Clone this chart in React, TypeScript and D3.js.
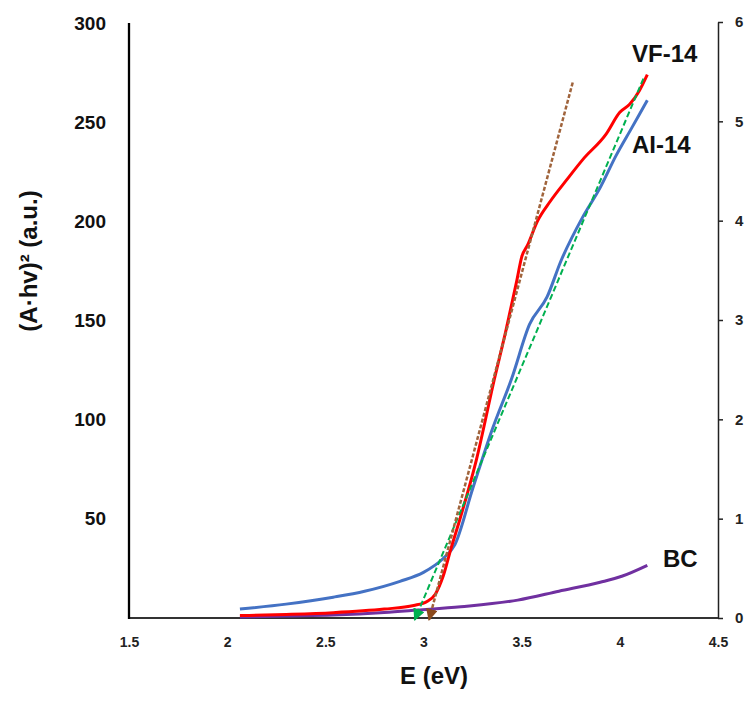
import * as d3 from "d3";
import { useEffect, useRef } from "react";

// photon energy (eV) and (A·hv)^2 readings
const energyAI = [2.065, 2.3, 2.54, 2.7, 2.88, 3.0, 3.1, 3.16, 3.25, 3.35, 3.45, 3.54, 3.63, 3.7, 3.81, 3.9, 3.98, 4.06, 4.14];
const ai14 = [4.5, 7, 10.5, 13.5, 18.5, 23, 30, 37, 65, 95, 121, 148, 162, 180, 202, 217, 233, 247, 261];

const energyVF = [2.065, 2.3, 2.54, 2.8, 2.95, 3.02, 3.06, 3.1, 3.14, 3.18, 3.27, 3.36, 3.42, 3.475, 3.5, 3.53, 3.58, 3.645, 3.73, 3.81, 3.93, 4.0, 4.05, 4.1, 4.14];
const vf14 = [1.2, 1.8, 2.7, 4.5, 6.3, 8.5, 12, 21, 35, 48, 80, 120, 145, 170, 182, 188, 200, 210, 221, 231, 244, 255, 259, 266, 274];

// BC is on the secondary axis
const energyBC = [2.065, 2.3, 2.54, 2.8, 2.97, 3.19, 3.48, 3.69, 3.9, 4.01, 4.14];
const bc = [0.01, 0.02, 0.03, 0.055, 0.08, 0.114, 0.18, 0.27, 0.36, 0.42, 0.53];

// tangent (Tauc) extrapolation lines: [E, value]
const tangentAI: [number, number][] = [[4.12, 272], [2.955, -1]];
const tangentVF: [number, number][] = [[3.76, 270], [3.028, -1]];

const xTicks = [1.5, 2, 2.5, 3, 3.5, 4, 4.5];
const leftTicks = [50, 100, 150, 200, 250, 300];
const rightTicks = [0, 1, 2, 3, 4, 5, 6];

const FONT = "'Liberation Sans', Arial, sans-serif";

export default function App() {
  const svgRef = useRef<SVGSVGElement | null>(null);

  useEffect(() => {
    const svg = d3.select(svgRef.current);
    svg.selectAll("*").remove();

    const x = d3.scaleLinear().domain([1.5, 4.5]).range([129, 718]);
    const yL = d3.scaleLinear().domain([0, 300]).range([618, 23]);
    const yR = d3.scaleLinear().domain([0, 6]).range([618, 22]);

    const defs = svg.append("defs");
    const marker = (id: string, color: string) =>
      defs
        .append("marker")
        .attr("id", id)
        .attr("viewBox", "0 0 12 12")
        .attr("refX", 11)
        .attr("refY", 6)
        .attr("markerWidth", 12)
        .attr("markerHeight", 12)
        .attr("markerUnits", "userSpaceOnUse")
        .attr("orient", "auto")
        .append("path")
        .attr("d", "M0,0 L12,6 L0,12 Z")
        .attr("fill", color);
    marker("arrowGreen", "#00b050");
    marker("arrowBrown", "#8b4a1c");

    // axes
    const gx = svg
      .append("g")
      .attr("transform", "translate(0,618)")
      .call(d3.axisBottom(x).tickValues(xTicks).tickSize(0).tickPadding(19).tickFormat(d3.format("~g") as any));
    gx.select(".domain").remove();
    gx.selectAll("text").attr("font-size", 14).attr("font-weight", "bold").attr("font-family", FONT).attr("fill", "#222");

    const gl = svg
      .append("g")
      .attr("transform", "translate(129,0)")
      .call(d3.axisLeft(yL).tickValues(leftTicks).tickSize(0).tickPadding(23));
    gl.select(".domain").remove();
    gl.selectAll("text").attr("font-size", 19).attr("font-weight", "bold").attr("font-family", FONT).attr("fill", "#111");

    const gr = svg
      .append("g")
      .attr("transform", "translate(718,0)")
      .call(
        d3
          .axisRight(yR)
          .tickValues(rightTicks)
          .tickSize(5)
          .tickPadding(12)
          .tickSizeOuter(0)
          .tickFormat(d3.format("d") as any)
      );
    gr.select(".domain").attr("stroke", "#222").attr("stroke-width", 1.5);
    gr.selectAll(".tick line").attr("stroke", "#222").attr("stroke-width", 1.5);
    gr.selectAll("text").attr("font-size", 15).attr("font-weight", "bold").attr("font-family", FONT).attr("fill", "#222");

    svg
      .append("line")
      .attr("x1", 129)
      .attr("x2", 718)
      .attr("y1", 618)
      .attr("y2", 618)
      .attr("stroke", "#333")
      .attr("stroke-width", 2.2);
    svg
      .append("line")
      .attr("x1", 129)
      .attr("x2", 129)
      .attr("y1", 23)
      .attr("y2", 619)
      .attr("stroke", "#000")
      .attr("stroke-width", 2.3);

    const lineL = d3
      .line<[number, number]>()
      .x((d) => x(d[0]))
      .y((d) => yL(d[1]))
      .curve(d3.curveMonotoneX);
    const lineR = d3
      .line<[number, number]>()
      .x((d) => x(d[0]))
      .y((d) => yR(d[1]))
      .curve(d3.curveMonotoneX);

    svg
      .append("path")
      .attr("d", lineR(d3.zip(energyBC, bc) as [number, number][]))
      .attr("fill", "none")
      .attr("stroke", "#7030a0")
      .attr("stroke-width", 3);

    svg
      .append("path")
      .attr("d", lineL(d3.zip(energyAI, ai14) as [number, number][]))
      .attr("fill", "none")
      .attr("stroke", "#4472c4")
      .attr("stroke-width", 3);

    svg
      .append("path")
      .attr("d", lineL(d3.zip(energyVF, vf14) as [number, number][]))
      .attr("fill", "none")
      .attr("stroke", "#ff0000")
      .attr("stroke-width", 3);

    const straight = d3
      .line<[number, number]>()
      .x((d) => x(d[0]))
      .y((d) => yL(d[1]));

    svg
      .append("path")
      .attr("d", straight(tangentAI))
      .attr("fill", "none")
      .attr("stroke", "#00b050")
      .attr("stroke-width", 2)
      .attr("stroke-dasharray", "6 3")
      .attr("marker-end", "url(#arrowGreen)");

    svg
      .append("path")
      .attr("d", straight(tangentVF))
      .attr("fill", "none")
      .attr("stroke", "#a0643c")
      .attr("stroke-width", 2.5)
      .attr("stroke-dasharray", "4 2")
      .attr("marker-end", "url(#arrowBrown)");

    // series labels
    const label = (t: string, px: number, py: number) =>
      svg
        .append("text")
        .attr("x", px)
        .attr("y", py)
        .attr("font-family", FONT)
        .attr("font-size", 24)
        .attr("font-weight", "bold")
        .attr("fill", "#111")
        .text(t);
    label("VF-14", 632, 62);
    label("AI-14", 632, 153);
    label("BC", 663, 567);

    // axis titles
    svg
      .append("text")
      .attr("x", 434)
      .attr("y", 684)
      .attr("text-anchor", "middle")
      .attr("font-family", FONT)
      .attr("font-size", 24)
      .attr("font-weight", "bold")
      .attr("fill", "#111")
      .text("E (eV)");

    svg
      .append("text")
      .attr("transform", "translate(37,261) rotate(-90)")
      .attr("text-anchor", "middle")
      .attr("font-family", FONT)
      .attr("font-size", 24)
      .attr("font-weight", "bold")
      .attr("fill", "#111")
      .text("(A·hv)² (a.u.)");
  }, []);

  return (
    <svg
      ref={svgRef}
      width={756}
      height={704}
      style={{ position: "absolute", left: 0, top: 0, background: "#fff" }}
    />
  );
}
